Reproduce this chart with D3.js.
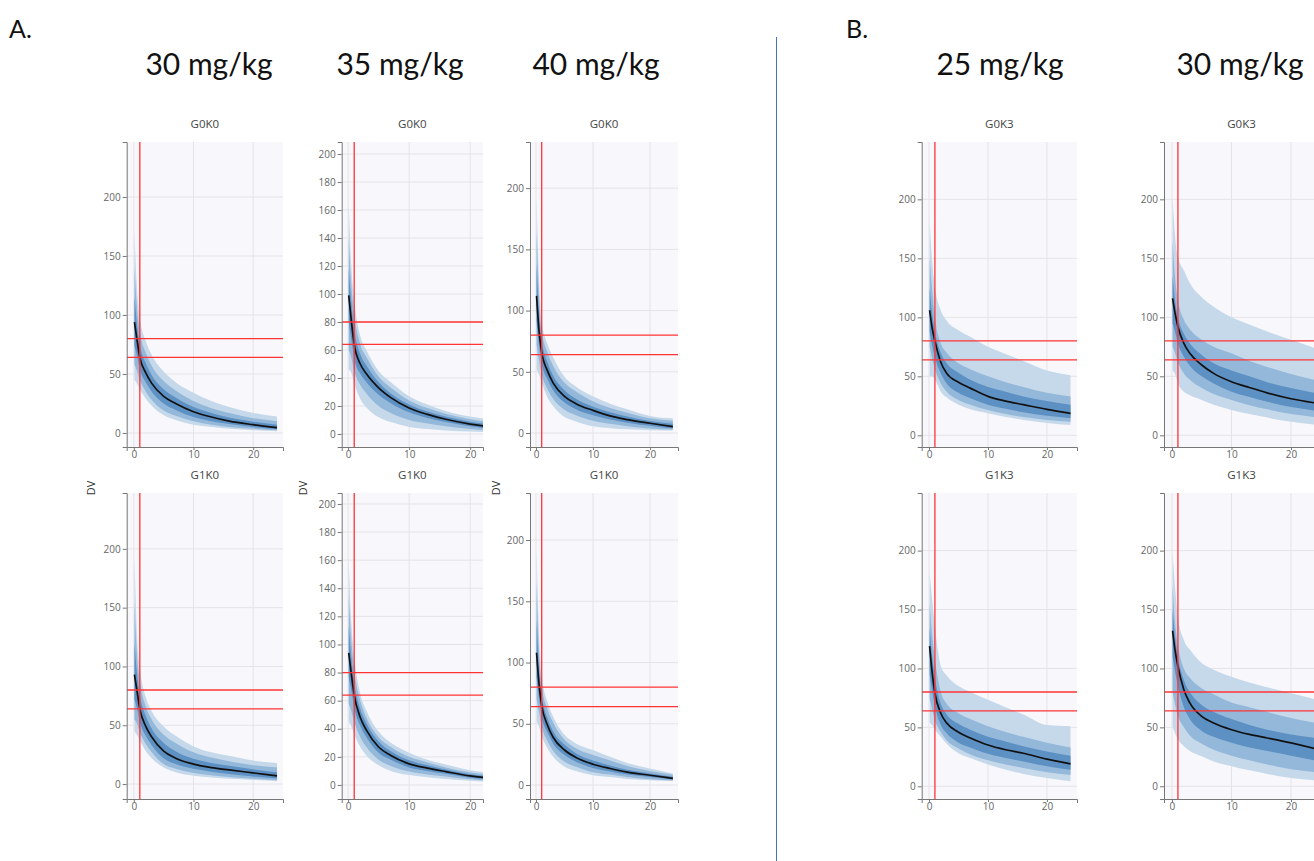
<!DOCTYPE html>
<html>
<head>
<meta charset="utf-8">
<script src="https://cdn.jsdelivr.net/npm/d3@7"></script>
<style>
  body { margin: 0; background: #fff; }
  svg text { font-family: "Open Sans", sans-serif; }
</style>
</head>
<body>
<svg id="chart" width="1314" height="861"></svg>
<script>
// time after dose (h)
const times = [0.1, 0.5, 1, 2, 3, 5, 7, 10, 13, 16, 20, 24];

// quantiles of simulated DV, one array per quantile: p05, p10, p25, p50, p75, p90, p95
const a30_G0K0 = {
  p95: [170, 125, 98, 78, 66, 52, 43, 34, 27, 22, 17, 14],
  p90: [140, 108, 86, 68, 57, 44, 36, 27, 21, 17, 12.5, 10],
  p75: [116, 93, 75, 59, 49, 37, 30, 22, 17, 13, 9.5, 7],
  p50: [94, 80, 64, 51, 42, 31, 25, 18, 13.5, 10, 7, 4.5],
  p25: [74, 66, 54, 43, 35, 25, 19.5, 13.5, 10, 7.5, 5, 3.2],
  p10: [58, 53, 45, 35, 28, 19, 14.5, 10, 7, 5, 3.5, 2.2],
  p05: [45, 42, 37, 29, 23, 15, 11, 7, 5, 3.5, 2.3, 1.5]
};
const a30_G1K0 = {
  p95: [193, 130, 100, 74, 62, 49, 41, 32, 27, 24, 20, 18],
  p90: [155, 112, 88, 66, 55, 42, 35, 27, 22.5, 19.5, 16, 14],
  p75: [120, 95, 76, 58, 47, 35, 28, 21.5, 18, 15.5, 12.5, 10],
  p50: [93, 80, 64, 49, 40, 28, 22, 17, 14, 12, 9.5, 7],
  p25: [72, 65, 53, 41, 33, 22, 17, 13, 10.5, 8.5, 6.5, 4.8],
  p10: [55, 52, 44, 34, 27, 17, 13, 9.5, 7.5, 6, 4.5, 3.3],
  p05: [45, 42, 37, 28, 22, 14, 10, 7, 5.5, 4.5, 3.5, 2.5]
};
const a35_G0K0 = {
  p95: [165, 122, 96, 70, 60, 45, 37, 27, 21, 16.5, 12.5, 10],
  p90: [140, 108, 86, 64, 55, 41, 33, 24, 18.5, 14.5, 10.5, 8],
  p75: [118, 95, 75, 57, 49, 37, 29, 21, 16, 12.5, 8.8, 6.5],
  p50: [99, 82, 64, 50, 43, 33, 26, 18.6, 14, 10.5, 7.1, 4.8],
  p25: [80, 68, 54, 43, 37, 28, 22, 15.5, 11.5, 8.5, 5.5, 3.5],
  p10: [60, 55, 45, 35, 29, 20, 15, 10, 7.5, 5.5, 3.5, 2.3],
  p05: [46, 44, 36, 25, 19, 12, 8.5, 5, 3.5, 2.5, 1.7, 1.2]
};
const a35_G1K0 = {
  p95: [160, 118, 92, 65, 53, 38, 30, 23, 18, 14.5, 10.5, 8.5],
  p90: [135, 105, 82, 60, 48, 34, 27, 20, 16, 12.5, 9, 7],
  p75: [113, 92, 73, 54, 44, 31, 24, 17.5, 14, 11, 7.7, 5.8],
  p50: [94, 80, 64, 48, 39, 27, 21, 15, 12, 9.5, 6.4, 4.6],
  p25: [77, 68, 55, 42, 34, 23, 18, 12.5, 10, 8, 5.2, 3.6],
  p10: [58, 53, 45, 34, 27, 18, 13.5, 9.5, 7.5, 6, 4, 2.7],
  p05: [45, 42, 36, 27, 21, 14, 10, 7, 5.5, 4.3, 3, 2]
};
const a40_G0K0 = {
  p95: [192, 130, 92, 73, 62, 46, 38, 30, 24, 19.5, 14, 12],
  p90: [165, 115, 84, 66, 55, 41, 34, 26, 20.5, 16.5, 12, 10],
  p75: [138, 100, 76, 58, 47, 35, 28, 21.5, 17, 13.5, 9.8, 7.5],
  p50: [112, 85, 66, 51, 41, 30, 24, 18.5, 14, 11, 8, 5.2],
  p25: [92, 73, 57, 44, 35, 25, 19.5, 14.5, 11, 8.5, 6, 3.8],
  p10: [72, 60, 48, 36, 28, 19, 14.5, 10, 7.5, 5.5, 3.8, 2.8],
  p05: [52, 48, 41, 29, 22, 13, 9.5, 5.5, 4, 3, 2.3, 2]
};
const a40_G1K0 = {
  p95: [192, 128, 90, 68, 56, 41, 34, 28.5, 23, 18, 13.6, 9.5],
  p90: [165, 112, 82, 62, 51, 37, 30, 24.5, 20, 15.5, 11.5, 8.3],
  p75: [135, 98, 74, 55, 44, 33, 26, 20, 16, 12.5, 9.5, 6.8],
  p50: [108, 84, 65, 49, 39, 28.6, 22.5, 17, 13.5, 10.5, 8, 5.4],
  p25: [88, 72, 56, 43, 34, 24.5, 19, 14, 11, 8.5, 6.5, 4.3],
  p10: [70, 60, 48, 36, 28, 19, 15, 10.5, 8.5, 6.5, 4.8, 3.8],
  p05: [52, 48, 40, 30, 23, 15, 11.5, 8, 6.5, 5, 4, 3.2]
};
const b25_G0K3 = {
  p95: [182, 150, 126, 106, 97, 89, 83.5, 75, 69, 63, 55, 51],
  p90: [150, 125, 100, 78, 70, 61, 56, 50, 45, 41, 36, 33],
  p75: [125, 105, 88, 70, 61, 53, 47, 41, 37, 33, 29, 26],
  p50: [106, 92, 80, 62, 52.5, 45, 40, 33, 29, 26, 22, 18.6],
  p25: [88, 77, 66, 52.5, 44, 36, 31.5, 26, 22.5, 19.5, 16.5, 14.4],
  p10: [75, 66, 56, 44, 37, 30, 26, 21.4, 18, 15.5, 13, 11.5],
  p05: [50, 50, 47, 37, 32, 26, 22, 18.6, 15.5, 13, 10.5, 8.7]
};
const b25_G1K3 = {
  p95: [181, 160, 136, 102, 94, 85, 80, 73.5, 67, 61, 52, 51],
  p90: [155, 130, 108, 80, 70, 62, 57, 51, 46, 42, 37, 33],
  p75: [135, 112, 92, 70, 61, 53, 48, 42, 38, 34, 29.5, 26],
  p50: [119, 98, 79, 62, 53.7, 45.8, 41, 35, 31, 28, 23, 19],
  p25: [95, 82, 68, 52, 45, 37, 33, 27.5, 24, 21, 17, 14],
  p10: [75, 66, 56, 46, 39, 32, 27, 22, 18.5, 15.5, 12, 9.5],
  p05: [54, 52, 48, 42, 36, 28, 24, 18.4, 14, 10.5, 7, 4.2]
};
const b30_G0K3 = {
  p95: [202, 170, 151, 140, 129, 117, 109, 100, 94, 88, 81, 74],
  p90: [165, 135, 115, 98, 90, 81, 75, 69.5, 63, 58, 52, 47],
  p75: [135, 115, 100, 86, 78, 68, 61, 55, 50, 45, 40, 36],
  p50: [116, 104, 92, 78, 69.5, 59.6, 52.5, 45.4, 40.5, 36, 31, 27.5],
  p25: [95, 88, 78, 66.6, 59, 50, 44, 37, 32.5, 28.5, 24, 21],
  p10: [75, 70, 62, 52.5, 47, 40, 35, 30, 25.5, 22, 18, 15.5],
  p05: [55, 52, 44, 37, 34, 30, 26, 21.5, 18, 15, 11.5, 9]
};
const b30_G1K3 = {
  p95: [198, 170, 144, 124, 116, 104.6, 99, 93, 88, 84, 79, 74],
  p90: [170, 140, 120, 100, 92, 83, 78, 71, 67, 63, 58, 54],
  p75: [150, 128, 110, 90, 80, 69, 63, 57, 52, 48, 44, 41],
  p50: [132, 116, 101.7, 82, 70.7, 59.3, 53.7, 48, 44, 41, 36.8, 32],
  p25: [110, 98, 85, 67, 57, 47, 42, 37, 33, 30, 26, 22],
  p10: [80, 70, 60, 50, 43, 36, 31, 26, 22, 18.5, 14.5, 12],
  p05: [51, 45, 39.6, 34, 30, 25.4, 21, 17, 13.5, 10.5, 7, 5]
};

const doseLabels = ['30 mg/kg', '35 mg/kg', '40 mg/kg', '25 mg/kg', '30 mg/kg'];
const panelTitles = [['G0K0', 'G1K0'], ['G0K0', 'G1K0'], ['G0K0', 'G1K0'], ['G0K3', 'G1K3'], ['G0K3', 'G1K3']];
const panelData = [[a30_G0K0, a30_G1K0], [a35_G0K0, a35_G1K0], [a40_G0K0, a40_G1K0], [b25_G0K3, b25_G1K3], [b30_G0K3, b30_G1K3]];
const yTicksA = [0, 50, 100, 150, 200];
const yTicks35 = [0, 20, 40, 60, 80, 100, 120, 140, 160, 180, 200];
const xTicks = [0, 10, 20];
const thresholds = [80, 64];
const doseTime = 1;

// layout of the five facet columns
const cols = [
  { x0: 126.7, x1: 283,  xd: [-1.2, 25],   yd: [[-11.9, 246.6], [-12.7, 247.5]], yt: yTicksA,  dv: 95,  cx: 209 },
  { x0: 341.7, x1: 483,  xd: [-1.05, 22.1], yd: [[-9.3, 208.6], [-10, 207.8]],  yt: yTicks35, dv: 307, cx: 400 },
  { x0: 530,   x1: 678,  xd: [-1.05, 24.9], yd: [[-11.4, 237.7], [-11.4, 238.4]], yt: yTicksA, dv: 500, cx: 596 },
  { x0: 921.7, x1: 1077, xd: [-1.24, 25.1], yd: [[-9.9, 248.6], [-10.8, 248.9]], yt: yTicksA,  dv: null, cx: 1000 },
  { x0: 1164,  x1: 1319, xd: [-1.34, 24.7], yd: [[-9.9, 248.6], [-10.8, 248.9]], yt: yTicksA,  dv: null, cx: 1240 }
];
const rows = [{ top: 142, bottom: 447 }, { top: 493, bottom: 799 }];

const svg = d3.select('#chart');
const defs = svg.append('defs');

const bandColors = ['#c6d9eb', '#94b8da', '#5d90c3'];
const bands = [['p05', 'p95'], ['p10', 'p90'], ['p25', 'p75']];

cols.forEach((c, ci) => {
  rows.forEach((r, ri) => {
    const w = c.x1 - c.x0, h = r.bottom - r.top;
    const x = d3.scaleLinear().domain(c.xd).range([0, w]);
    const y = d3.scaleLinear().domain(c.yd[ri]).range([h, 0]);
    const d = panelData[ci][ri];
    const pts = times.map((t, i) => ({ t, i }));

    const g = svg.append('g').attr('transform', `translate(${c.x0},${r.top})`);
    g.append('rect').attr('width', w).attr('height', h).attr('fill', '#f8f8fc');

    // grid
    g.append('g').selectAll('line').data(c.yt).enter().append('line')
      .attr('x1', 0).attr('x2', w).attr('y1', v => y(v)).attr('y2', v => y(v))
      .attr('stroke', '#e4e4e8').attr('stroke-width', 1);
    g.append('g').selectAll('line').data(xTicks).enter().append('line')
      .attr('y1', 0).attr('y2', h).attr('x1', v => x(v)).attr('x2', v => x(v))
      .attr('stroke', '#e4e4e8').attr('stroke-width', 1);

    const clipId = `clip${ci}_${ri}`;
    defs.append('clipPath').attr('id', clipId).append('rect').attr('width', w).attr('height', h);
    const plot = g.append('g').attr('clip-path', `url(#${clipId})`);

    bands.forEach(([lo, hi], bi) => {
      const area = d3.area()
        .x(p => x(p.t))
        .y0(p => y(d[lo][p.i]))
        .y1(p => y(d[hi][p.i]))
        .curve(d3.curveMonotoneX);
      plot.append('path').datum(pts).attr('d', area).attr('fill', bandColors[bi]);
    });

    const line = d3.line().x(p => x(p.t)).y(p => y(d.p50[p.i])).curve(d3.curveMonotoneX);
    plot.append('path').datum(pts).attr('d', line)
      .attr('fill', 'none').attr('stroke', '#111').attr('stroke-width', 1.7);

    // target lines
    plot.selectAll('line.thr').data(thresholds).enter().append('line')
      .attr('x1', 0).attr('x2', w).attr('y1', v => y(v)).attr('y2', v => y(v))
      .attr('stroke', '#ff3333').attr('stroke-width', 1.3);
    plot.append('line')
      .attr('x1', x(doseTime)).attr('x2', x(doseTime)).attr('y1', 0).attr('y2', h)
      .attr('stroke', '#ff3333').attr('stroke-width', 1.3);

    // axes
    const ya = g.append('g').call(d3.axisLeft(y).tickValues(c.yt).tickSize(4).tickSizeOuter(4).tickPadding(2));
    const xa = g.append('g').attr('transform', `translate(0,${h})`)
      .call(d3.axisBottom(x).tickValues(xTicks).tickSize(3).tickSizeOuter(4).tickPadding(1));
    [ya, xa].forEach(a => {
      a.selectAll('path, line').attr('stroke', '#777');
      a.selectAll('text').attr('fill', '#666').style('font-size', '10px');
    });

    g.append('text').attr('x', w / 2).attr('y', -14)
      .attr('text-anchor', 'middle').attr('fill', '#444')
      .style('font-size', '11.5px').text(panelTitles[ci][ri]);

    if (ri === 1 && c.dv !== null) {
      svg.append('text').attr('transform', `translate(${c.dv},488) rotate(-90)`)
        .attr('text-anchor', 'middle').attr('fill', '#333')
        .style('font-size', '11px').text('DV');
    }
  });

  svg.append('text').attr('x', c.cx).attr('y', 75).attr('text-anchor', 'middle')
    .attr('fill', '#111').style('font-family', 'Lato, sans-serif').style('font-size', '30px')
    .text(doseLabels[ci]);
});

svg.append('text').attr('x', 9).attr('y', 38).attr('fill', '#111')
  .style('font-family', 'Lato, sans-serif').style('font-size', '25px').text('A.');
svg.append('text').attr('x', 846).attr('y', 38).attr('fill', '#111')
  .style('font-family', 'Lato, sans-serif').style('font-size', '25px').text('B.');

svg.append('line').attr('x1', 776.5).attr('x2', 776.5).attr('y1', 37).attr('y2', 861)
  .attr('stroke', '#4472c4').attr('stroke-width', 1);
</script>
</body>
</html>
